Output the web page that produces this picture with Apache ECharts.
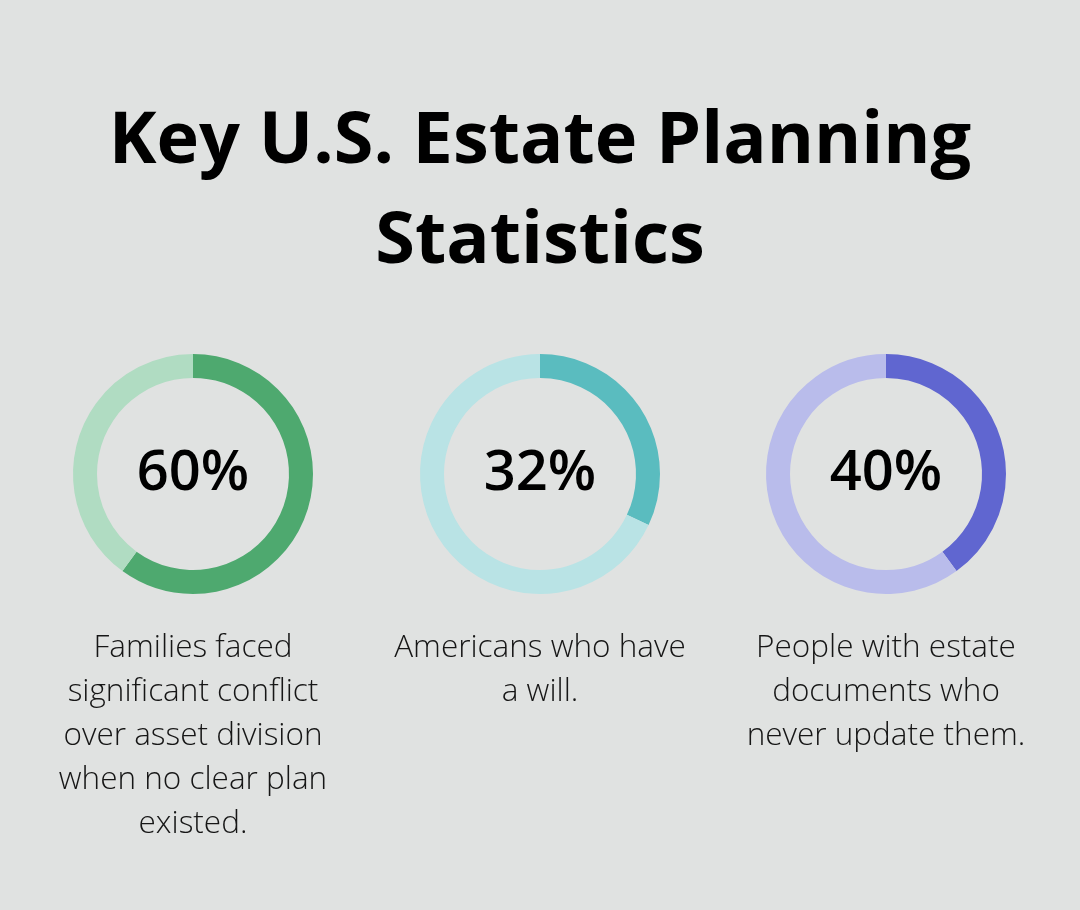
<!DOCTYPE html>
<html>
<head>
<meta charset="utf-8">
<script src="https://cdn.jsdelivr.net/npm/echarts@6/dist/echarts.min.js"></script>
<style>
html,body{margin:0;padding:0;background:#e0e2e1;}
#chart{width:1080px;height:910px;}
</style>
</head>
<body>
<div id="chart"></div>
<script>
const titleText = 'Key U.S. Estate Planning\nStatistics';
const labels = ['60%', '32%', '40%'];
const values = [60, 32, 40];
const descriptions = [
  'Families faced\nsignificant conflict\nover asset division\nwhen no clear plan\nexisted.',
  'Americans who have\na will.',
  'People with estate\ndocuments who\nnever update them.'
];
const darkColors = ['#4ea96f', '#5abcbf', '#6066d0'];
const lightColors = ['#b0dcc2', '#b9e3e5', '#b9bceb'];
const centersX = [193, 540, 886];

const chart = echarts.init(document.getElementById('chart'));
const FONT = '"Open Sans", "Noto Sans", sans-serif';

const series = values.map((v, i) => ({
  type: 'pie',
  center: [centersX[i], 474],
  radius: [96, 120],
  startAngle: 90,
  clockwise: true,
  silent: true,
  label: { show: false },
  labelLine: { show: false },
  emphasis: { disabled: true },
  data: [
    { value: v, itemStyle: { color: darkColors[i] } },
    { value: 100 - v, itemStyle: { color: lightColors[i] } }
  ]
}));

const graphics = [];
values.forEach((v, i) => {
  graphics.push({
    type: 'text',
    x: centersX[i], y: 474,
    style: {
      text: labels[i],
      fontFamily: FONT, fontSize: 56, fontWeight: 600,
      fill: '#000', align: 'center', verticalAlign: 'middle'
    }
  });
  graphics.push({
    type: 'text',
    x: centersX[i], y: 626,
    style: {
      text: descriptions[i],
      fontFamily: FONT, fontSize: 31.5, fontWeight: 300,
      lineHeight: 44,
      fill: '#161616', align: 'center', verticalAlign: 'top'
    }
  });
});
graphics.push({
  type: 'text',
  x: 540, y: 92,
  style: {
    text: titleText,
    fontFamily: FONT, fontSize: 72, fontWeight: 700,
    lineHeight: 100,
    fill: '#000', align: 'center', verticalAlign: 'top'
  }
});

chart.setOption({
  backgroundColor: '#e0e2e1',
  animation: false,
  series: series,
  graphic: graphics
});
</script>
</body>
</html>
